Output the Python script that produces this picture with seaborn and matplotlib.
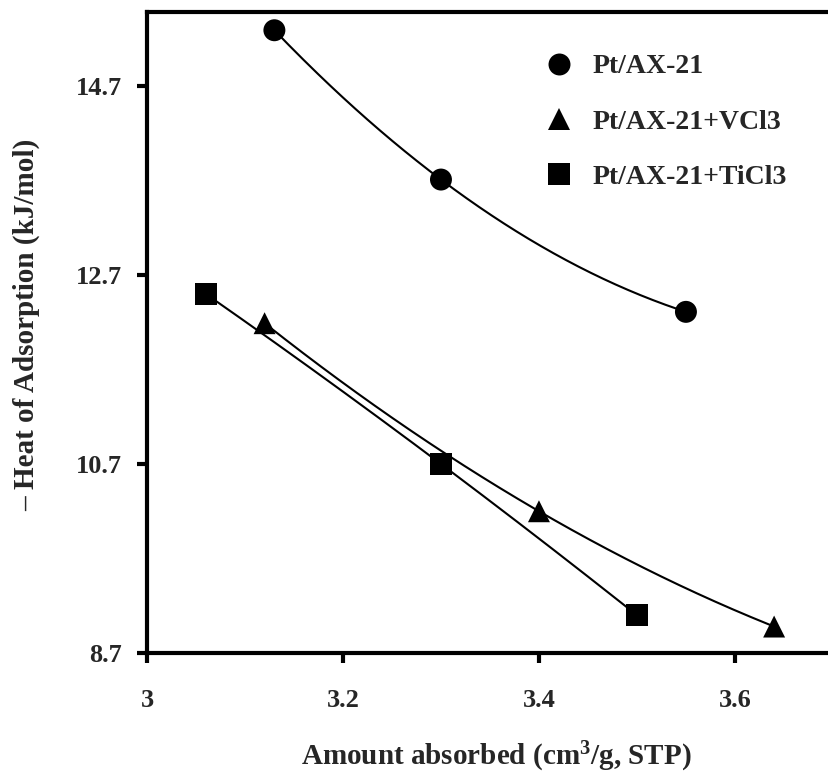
import numpy as np
import pandas as pd
import matplotlib
matplotlib.use("Agg")
import matplotlib.pyplot as plt
import seaborn as sns

# ---- data ----
series_names = ["Pt/AX-21", "Pt/AX-21+VCl3", "Pt/AX-21+TiCl3"]
x_pt = [3.13, 3.30, 3.55]
y_pt = [15.29, 13.71, 12.31]
x_v = [3.12, 3.40, 3.64]
y_v = [12.19, 10.20, 8.98]
x_ti = [3.06, 3.30, 3.50]
y_ti = [12.50, 10.70, 9.10]
x_ticks = [3, 3.2, 3.4, 3.6]
x_tick_labels = ["3", "3.2", "3.4", "3.6"]
y_ticks = [8.7, 10.7, 12.7, 14.7]
y_tick_labels = ["8.7", "10.7", "12.7", "14.7"]

sns.set_theme(style="ticks")
plt.rcParams["font.family"] = ["Liberation Serif", "DejaVu Serif"]
plt.rcParams["font.weight"] = "bold"
plt.rcParams["mathtext.fontset"] = "custom"
plt.rcParams["mathtext.rm"] = "Liberation Serif:bold"
plt.rcParams["mathtext.bf"] = "Liberation Serif:bold"
plt.rcParams["mathtext.it"] = "Liberation Serif:bold"

W, H = 829, 775
fig = plt.figure(figsize=(W / 100, H / 100), dpi=100)
left_px, right_px, top_px, bottom_px = 147, 829, 12, 653
ax = fig.add_axes([left_px / W, 1 - bottom_px / H,
                   (right_px - left_px) / W, (bottom_px - top_px) / H])

points = pd.DataFrame({
    "x": x_pt + x_v + x_ti,
    "y": y_pt + y_v + y_ti,
    "series": [series_names[0]] * len(x_pt) + [series_names[1]] * len(x_v)
              + [series_names[2]] * len(x_ti),
})

# trend curves: quadratic fits through each series
curves = []
for name, xs, ys in [(series_names[0], x_pt, y_pt),
                     (series_names[1], x_v, y_v),
                     (series_names[2], x_ti, y_ti)]:
    c = np.polyfit(xs, ys, 2)
    xx = np.linspace(min(xs), max(xs), 200)
    curves.append(pd.DataFrame({"x": xx, "y": np.polyval(c, xx), "series": name}))
curves = pd.concat(curves, ignore_index=True)

sns.lineplot(data=curves, x="x", y="y", units="series", estimator=None,
             color="black", linewidth=1.5, ax=ax, legend=False, sort=False)
sns.scatterplot(data=points, x="x", y="y", style="series",
                markers={series_names[0]: "o", series_names[1]: "^",
                         series_names[2]: "s"},
                style_order=series_names, color="black", s=250,
                edgecolor="black", linewidth=0, ax=ax, zorder=3)

ax.set_xlim(3, 3.696)
ax.set_ylim(8.7, 8.7 + 641 / 94.5)
ax.set_xticks(x_ticks)
ax.set_xticklabels(x_tick_labels)
ax.set_yticks(y_ticks)
ax.set_yticklabels(y_tick_labels)
ax.tick_params(axis="both", direction="out", length=7, width=3,
               labelsize=19, color="black")
ax.tick_params(axis="x", pad=19)
ax.tick_params(axis="y", pad=11)
for lab in ax.get_xticklabels() + ax.get_yticklabels():
    lab.set_fontweight("bold")

for side in ["left", "bottom", "top"]:
    ax.spines[side].set_linewidth(3)
    ax.spines[side].set_color("black")
ax.spines["right"].set_visible(False)

ax.set_xlabel(r"Amount absorbed (cm$^{\mathbf{3}}$/g, STP)", fontsize=21, fontweight="bold")
ax.set_ylabel("– Heat of Adsorption (kJ/mol)", fontsize=21, fontweight="bold")
ax.xaxis.set_label_coords(0.512, -0.136)
ax.yaxis.set_label_coords(-0.157, 0.512)

handles, labels = ax.get_legend_handles_labels()
leg = ax.legend(handles, labels, frameon=False, loc="upper left",
                bbox_to_anchor=(534 / W, 1 - 40 / H),
                bbox_transform=fig.transFigure,
                prop={"family": "Liberation Serif", "weight": "bold", "size": 20},
                handlelength=0.8, handletextpad=0.8, labelspacing=1.08,
                borderpad=0, markerscale=1.0)

fig.savefig("out.png", dpi=100)
